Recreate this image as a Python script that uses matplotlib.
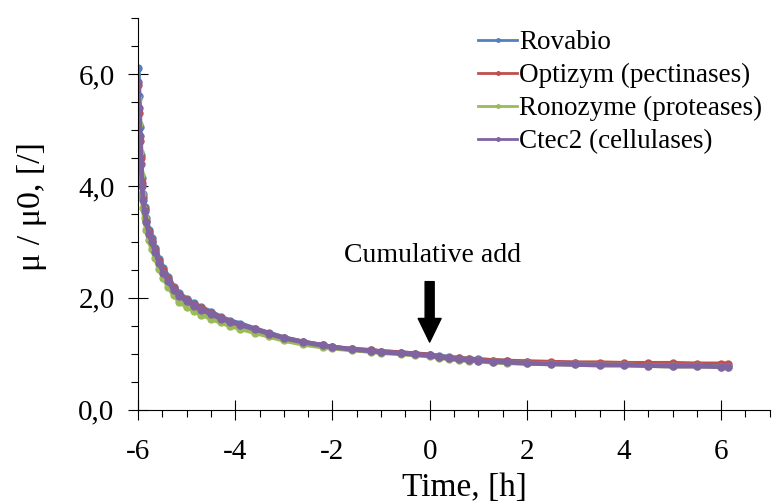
import numpy as np
import matplotlib.pyplot as plt
from matplotlib.ticker import FuncFormatter, MultipleLocator

# time axis shared by all four runs [h]
t_h = [-6.00, -5.98, -5.96, -5.94, -5.92, -5.90, -5.87, -5.83, -5.78, -5.72,
       -5.65, -5.57, -5.48, -5.38, -5.27, -5.15, -5.00, -4.85, -4.70, -4.50,
       -4.30, -4.10, -3.90, -3.60, -3.30, -3.00, -2.60, -2.20, -2.00, -1.60,
       -1.20, -1.00, -0.60, -0.30, 0.00, 0.20, 0.40, 0.60, 0.80, 1.00,
       1.30, 1.60, 2.00, 2.50, 3.00, 3.50, 4.00, 4.50, 5.00, 5.50,
       6.00, 6.15]

rovabio = [6.10, 5.60, 5.05, 4.55, 4.15, 3.85, 3.62, 3.42, 3.22, 3.07,
           2.90, 2.70, 2.53, 2.38, 2.20, 2.08, 1.98, 1.90, 1.83, 1.75,
           1.66, 1.59, 1.54, 1.45, 1.37, 1.29, 1.21, 1.15, 1.12, 1.08,
           1.06, 1.04, 1.02, 1.00, 0.98, 0.96, 0.94, 0.92, 0.91, 0.90,
           0.88, 0.87, 0.85, 0.84, 0.83, 0.82, 0.81, 0.81, 0.80, 0.80,
           0.79, 0.79]

optizym = [5.80, 5.30, 4.80, 4.50, 4.05, 3.80, 3.58, 3.38, 3.18, 3.02,
           2.85, 2.66, 2.49, 2.34, 2.17, 2.05, 1.96, 1.88, 1.81, 1.73,
           1.64, 1.57, 1.52, 1.44, 1.36, 1.28, 1.21, 1.15, 1.12, 1.08,
           1.06, 1.04, 1.02, 1.00, 0.98, 0.95, 0.93, 0.92, 0.90, 0.89,
           0.88, 0.87, 0.86, 0.85, 0.84, 0.84, 0.83, 0.83, 0.83, 0.82,
           0.82, 0.82]

ronozyme = [5.55, 5.10, 4.60, 4.20, 3.85, 3.60, 3.42, 3.22, 3.03, 2.88,
            2.72, 2.52, 2.36, 2.20, 2.05, 1.93, 1.84, 1.77, 1.70, 1.63,
            1.56, 1.50, 1.45, 1.38, 1.31, 1.24, 1.17, 1.12, 1.10, 1.07,
            1.04, 1.02, 1.00, 0.98, 0.96, 0.93, 0.91, 0.89, 0.88, 0.87,
            0.85, 0.84, 0.83, 0.82, 0.81, 0.80, 0.80, 0.79, 0.78, 0.78,
            0.77, 0.77]

ctec2 = [5.85, 5.40, 4.90, 4.40, 4.00, 3.75, 3.55, 3.35, 3.15, 3.00,
         2.82, 2.62, 2.45, 2.30, 2.14, 2.03, 1.94, 1.86, 1.79, 1.71,
         1.63, 1.57, 1.52, 1.44, 1.36, 1.28, 1.21, 1.15, 1.12, 1.08,
         1.05, 1.03, 1.01, 0.99, 0.97, 0.94, 0.92, 0.90, 0.89, 0.88,
         0.86, 0.85, 0.83, 0.82, 0.81, 0.80, 0.80, 0.79, 0.78, 0.78,
         0.77, 0.77]

series = [
    ("Rovabio", rovabio, "#4F81BD"),
    ("Optizym (pectinases)", optizym, "#C0504D"),
    ("Ronozyme (proteases)", ronozyme, "#9BBB59"),
    ("Ctec2 (cellulases)", ctec2, "#8064A2"),
]

plt.rcParams['font.family'] = ['Liberation Serif', 'DejaVu Serif']

fig = plt.figure(figsize=(7.72, 5.04), dpi=100)
ax = fig.add_axes([0.179, 0.187, 0.818, 0.777])

for name, vals, col in series:
    ax.plot(t_h, vals, color=col, linewidth=3.4, marker='o', markersize=5,
            label=name)

ax.set_xlim(-6, 7)
ax.set_ylim(0, 7)
ax.xaxis.set_major_locator(MultipleLocator(2))
ax.xaxis.set_minor_locator(MultipleLocator(0.5))
ax.yaxis.set_major_locator(MultipleLocator(2))
ax.yaxis.set_minor_locator(MultipleLocator(0.5))
ax.yaxis.set_major_formatter(FuncFormatter(lambda v, p: "{:.1f}".format(v).replace('.', ',')))
ax.xaxis.set_major_formatter(FuncFormatter(lambda v, p: "{:d}".format(int(round(v))) if v < 6.5 else ""))

for s in ['top', 'right']:
    ax.spines[s].set_visible(False)
ax.tick_params(which='major', direction='inout', length=14, width=0.8,
               labelsize=21)
ax.tick_params(which='minor', direction='out', length=5, width=0.8)
ax.tick_params(axis='x', which='major', pad=14)
ax.tick_params(axis='y', which='major', pad=10)

ax.set_xlabel("Time, [h]", fontsize=24, va='center')
ax.xaxis.set_label_coords(0.517, -0.199)
ax.set_ylabel("μ / μ0, [/]", fontsize=24.5, va='center')
ax.yaxis.set_label_coords(-0.168, 0.52)

ax.annotate("", xy=(0, 1.21), xytext=(0, 2.29),
            arrowprops=dict(width=6.5, headwidth=16.5, headlength=17,
                            facecolor='black', edgecolor='black',
                            shrink=0))
ax.text(0.05, 2.75, "Cumulative add", fontsize=20, ha='center', va='center')

leg = ax.legend(loc='upper left', bbox_to_anchor=(478 / 772, 0.94),
                bbox_transform=fig.transFigure, frameon=False,
                fontsize=19.5, handlelength=1.45, handletextpad=0.08,
                labelspacing=0.29, markerscale=0.5, borderpad=0,
                borderaxespad=0)
for h in leg.get_lines():
    h.set_linewidth(2)

fig.savefig("out.png", dpi=100)
